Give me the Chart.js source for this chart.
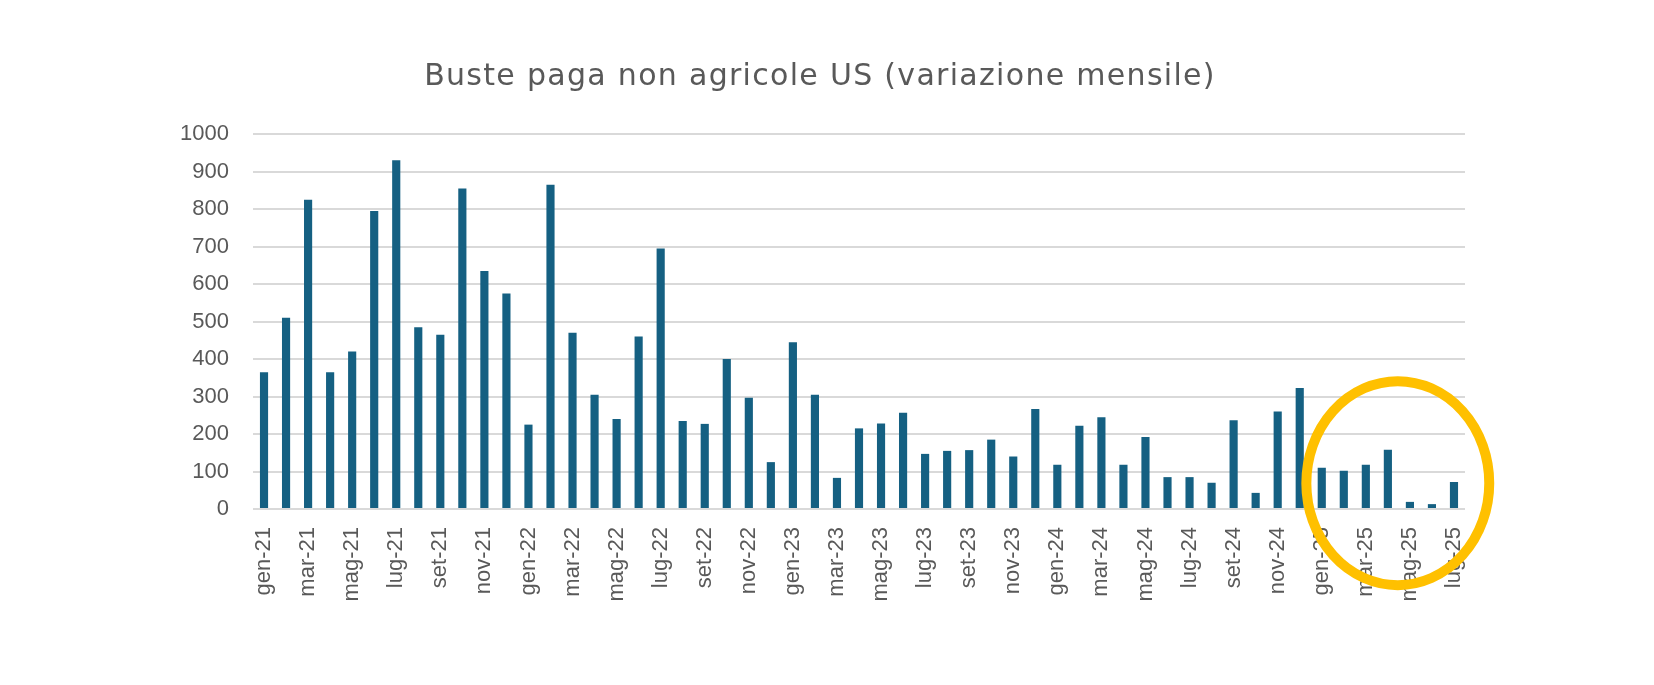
<!DOCTYPE html>
<html>
<head>
<meta charset="utf-8">
<title>Buste paga non agricole US</title>
<script src="https://cdn.jsdelivr.net/npm/chart.js@4/dist/chart.umd.min.js"></script>
<style>
    html, body { margin: 0; padding: 0; background: #ffffff; }
    #wrap { position: relative; width: 1654px; height: 685px; }
</style>
</head>
<body>
<div id="wrap"><canvas id="nfpChart" width="1654" height="685"></canvas></div>
<script>
// Month labels (Italian, Excel style)
const months = [
    'gen-21', 'feb-21', 'mar-21', 'apr-21', 'mag-21', 'giu-21', 'lug-21', 'ago-21', 'set-21', 'ott-21', 'nov-21', 'dic-21',
    'gen-22', 'feb-22', 'mar-22', 'apr-22', 'mag-22', 'giu-22', 'lug-22', 'ago-22', 'set-22', 'ott-22', 'nov-22', 'dic-22',
    'gen-23', 'feb-23', 'mar-23', 'apr-23', 'mag-23', 'giu-23', 'lug-23', 'ago-23', 'set-23', 'ott-23', 'nov-23', 'dic-23',
    'gen-24', 'feb-24', 'mar-24', 'apr-24', 'mag-24', 'giu-24', 'lug-24', 'ago-24', 'set-24', 'ott-24', 'nov-24', 'dic-24',
    'gen-25', 'feb-25', 'mar-25', 'apr-25', 'mag-25', 'giu-25', 'lug-25'
];

// Monthly change in nonfarm payrolls (thousands)
const payrollChange = [
    365, 510, 825, 365, 420, 795, 930, 485, 465, 855, 635, 575,
    225, 865, 470, 305, 240, 460, 695, 235, 227, 400, 297, 125,
    445, 305, 83, 215, 228, 257, 147, 155, 157, 185, 140, 267,
    118, 222, 245, 118, 192, 85, 85, 70, 237, 43, 260, 323,
    110, 102, 118, 158, 19, 13, 72
];

const yTicks = [0, 100, 200, 300, 400, 500, 600, 700, 800, 900, 1000];

const chartTitle = 'Buste paga non agricole US (variazione mensile)';

// Highlight ring around the 2025 months: centre as (category index, value), radii in data units
const ringCenter = [51.45, 69];
const ringRadius = [4.15, 272];

const textColor = '#595959';
const barColor = '#156082';
const gridColor = '#d9d9d9';
const ringColor = '#ffc000';

const titlePlugin = {
    id: 'excelTitle',
    afterDraw(chart) {
        const ctx = chart.ctx;
        ctx.save();
        ctx.fillStyle = textColor;
        ctx.font = '30px "DejaVu Sans", "Liberation Sans", sans-serif';
        ctx.letterSpacing = '1.3px';
        ctx.textAlign = 'center';
        ctx.textBaseline = 'alphabetic';
        ctx.fillText(chartTitle, 820, 85);
        ctx.restore();
    }
};

const ringPlugin = {
    id: 'ring',
    afterDraw(chart) {
        const x = chart.scales.x;
        const y = chart.scales.y;
        const i = Math.floor(ringCenter[0]);
        const step = x.getPixelForValue(i + 1) - x.getPixelForValue(i);
        const cx = x.getPixelForValue(i) + (ringCenter[0] - i) * step;
        const cy = y.getPixelForValue(ringCenter[1]);
        const rx = ringRadius[0] * step;
        const ry = Math.abs(y.getPixelForValue(ringRadius[1]) - y.getPixelForValue(0));
        const ctx = chart.ctx;
        ctx.save();
        ctx.strokeStyle = ringColor;
        ctx.lineWidth = 10;
        ctx.beginPath();
        ctx.ellipse(cx, cy, rx, ry, 0, 0, Math.PI * 2);
        ctx.stroke();
        ctx.restore();
    }
};

const ctx = document.getElementById('nfpChart').getContext('2d');
new Chart(ctx, {
    type: 'bar',
    data: {
        labels: months,
        datasets: [{
            label: 'Variazione mensile',
            data: payrollChange,
            backgroundColor: barColor,
            borderWidth: 0,
            categoryPercentage: 1,
            barPercentage: 0.37
        }]
    },
    options: {
        responsive: false,
        animation: false,
        devicePixelRatio: 1,
        layout: { padding: { top: 134, right: 189, bottom: 0, left: 0 } },
        scales: {
            x: {
                grid: { display: false, drawTicks: false },
                border: { display: false },
                ticks: {
                    autoSkip: false,
                    minRotation: 90,
                    maxRotation: 90,
                    padding: 18,
                    color: textColor,
                    font: { family: '"Liberation Sans", Arial, sans-serif', size: 22 },
                    callback: function(value, index) {
                        return index % 2 === 0 ? months[index] : '';
                    }
                },
                afterFit: function(scale) { scale.height = 176; }
            },
            y: {
                min: 0,
                max: 1000,
                afterBuildTicks: function(scale) {
                    scale.ticks = yTicks.map(v => ({ value: v }));
                },
                grid: { color: gridColor, lineWidth: 2, drawTicks: false },
                border: { display: false },
                ticks: {
                    padding: 24,
                    color: textColor,
                    font: { family: '"Liberation Sans", Arial, sans-serif', size: 22 },
                    callback: function(value) { return String(value); }
                },
                afterFit: function(scale) { scale.width = 253; }
            }
        },
        plugins: {
            legend: { display: false },
            title: { display: false },
            tooltip: { enabled: false }
        }
    },
    plugins: [titlePlugin, ringPlugin]
});
</script>
</body>
</html>
